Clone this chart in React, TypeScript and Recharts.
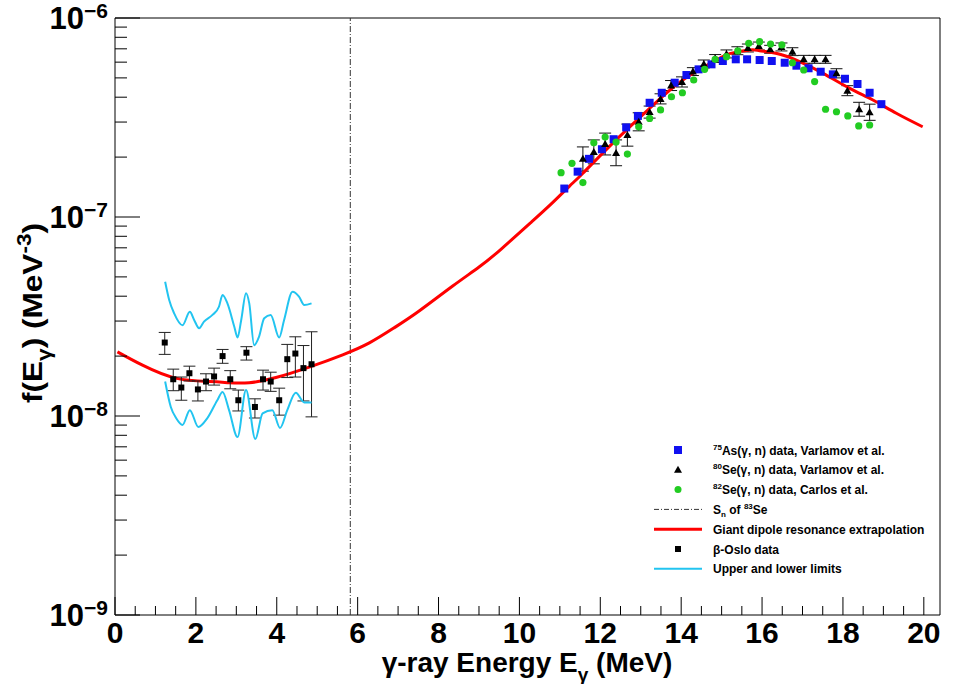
import React from 'react';
import {
  ComposedChart,
  Line,
  Scatter,
  XAxis,
  YAxis,
  ErrorBar,
  ReferenceLine,
  ReferenceArea,
  Legend,
} from 'recharts';

// 75As(g,n), Varlamov et al.
const asEnergy = [11.11, 11.44, 11.72, 12.04, 12.33, 12.64, 12.93, 13.22, 13.52, 13.84, 14.13, 14.43, 14.75, 15.03, 15.35, 15.63, 15.94, 16.24, 16.56, 16.85, 17.15, 17.45, 17.75, 18.05, 18.36, 18.66, 18.95];
const asStrength = [1.39e-7, 1.69e-7, 1.96e-7, 2.19e-7, 2.46e-7, 2.82e-7, 3.22e-7, 3.75e-7, 4.21e-7, 4.73e-7, 5.17e-7, 5.52e-7, 5.85e-7, 6.08e-7, 6.2e-7, 6.2e-7, 6.15e-7, 6.08e-7, 5.96e-7, 5.76e-7, 5.59e-7, 5.37e-7, 5.21e-7, 4.95e-7, 4.66e-7, 4.21e-7, 3.69e-7];

// 80Se(g,n), Varlamov et al.
const se80Energy = [11.57, 11.84, 12.12, 12.39, 12.67, 12.95, 13.22, 13.49, 13.75, 14.02, 14.29, 14.56, 14.84, 15.12, 15.39, 15.65, 15.92, 16.2, 16.48, 16.75, 17.03, 17.3, 17.57, 17.84, 18.11, 18.4, 18.66];
const se80Strength = [1.96e-7, 2.12e-7, 2.33e-7, 2.1e-7, 2.58e-7, 3.01e-7, 3.37e-7, 3.92e-7, 4.58e-7, 4.77e-7, 5.38e-7, 5.87e-7, 6.26e-7, 6.6e-7, 6.85e-7, 7.07e-7, 7.23e-7, 6.96e-7, 7.15e-7, 6.77e-7, 6.2e-7, 6.2e-7, 6.2e-7, 5.27e-7, 4.31e-7, 3.48e-7, 3.36e-7];
const se80Low = [1.7e-7, 1.85e-7, 2.05e-7, 1.81e-7, 2.27e-7, 2.71e-7, 3.14e-7, 3.7e-7, 4.32e-7, 4.5e-7, 5.14e-7, 5.61e-7, 5.98e-7, 6.3e-7, 6.54e-7, 6.75e-7, 6.91e-7, 6.65e-7, 6.83e-7, 6.47e-7, 5.92e-7, 5.92e-7, 5.92e-7, 5.0e-7, 4.07e-7, 3.21e-7, 3.06e-7];
const se80High = [2.25e-7, 2.44e-7, 2.64e-7, 2.44e-7, 2.93e-7, 3.34e-7, 3.61e-7, 4.16e-7, 4.85e-7, 5.06e-7, 5.63e-7, 6.15e-7, 6.55e-7, 6.91e-7, 7.17e-7, 7.4e-7, 7.57e-7, 7.29e-7, 7.49e-7, 7.09e-7, 6.49e-7, 6.49e-7, 6.49e-7, 5.56e-7, 4.57e-7, 3.77e-7, 3.69e-7];

// 82Se(g,n), Carlos et al.
const se82Energy = [11.03, 11.3, 11.57, 11.84, 12.12, 12.39, 12.67, 12.95, 13.22, 13.49, 13.76, 14.03, 14.31, 14.58, 14.84, 15.12, 15.4, 15.67, 15.94, 16.21, 16.49, 16.75, 17.03, 17.3, 17.57, 17.84, 18.12, 18.39, 18.66];
const se82Strength = [1.67e-7, 1.86e-7, 1.49e-7, 2.36e-7, 2.52e-7, 2.38e-7, 2.07e-7, 2.84e-7, 3.13e-7, 3.45e-7, 4.02e-7, 4.21e-7, 4.88e-7, 5.52e-7, 6.2e-7, 6.39e-7, 6.83e-7, 7.46e-7, 7.6e-7, 7.4e-7, 7.32e-7, 5.96e-7, 5.48e-7, 4.79e-7, 3.48e-7, 3.38e-7, 3.22e-7, 2.87e-7, 2.9e-7];

// GDR extrapolation
const gdrEnergy = [0.06, 0.68, 1.5, 2.33, 2.82, 3.32, 3.98, 4.8, 5.63, 6.29, 6.91, 7.52, 8.35, 9.01, 9.55, 10.29, 10.82, 11.24, 11.57, 12.39, 13.22, 14.04, 14.87, 15.2, 15.69, 15.94, 16.44, 16.93, 17.51, 18.17, 18.74, 19.32, 19.97];
const gdrStrength = [2.1e-8, 1.8e-8, 1.55e-8, 1.49e-8, 1.47e-8, 1.47e-8, 1.56e-8, 1.76e-8, 2.03e-8, 2.33e-8, 2.78e-8, 3.37e-8, 4.5e-8, 5.62e-8, 6.9e-8, 9.4e-8, 1.18e-7, 1.43e-7, 1.66e-7, 2.44e-7, 3.52e-7, 4.88e-7, 6.15e-7, 6.62e-7, 6.9e-7, 6.85e-7, 6.57e-7, 6.03e-7, 5.27e-7, 4.43e-7, 3.87e-7, 3.32e-7, 2.84e-7];

// beta-Oslo
const osloEnergy = [1.23, 1.44, 1.64, 1.84, 2.05, 2.25, 2.45, 2.66, 2.85, 3.05, 3.25, 3.46, 3.66, 3.85, 4.06, 4.26, 4.46, 4.66, 4.86];
const osloStrength = [2.34e-8, 1.53e-8, 1.39e-8, 1.64e-8, 1.36e-8, 1.49e-8, 1.58e-8, 2.0e-8, 1.53e-8, 1.2e-8, 2.08e-8, 1.11e-8, 1.53e-8, 1.49e-8, 1.2e-8, 1.93e-8, 2.06e-8, 1.74e-8, 1.82e-8];
const osloLow = [2.04e-8, 1.34e-8, 1.2e-8, 1.5e-8, 1.19e-8, 1.34e-8, 1.43e-8, 1.84e-8, 1.37e-8, 1.06e-8, 1.91e-8, 0.977e-8, 1.35e-8, 1.33e-8, 1.01e-8, 1.56e-8, 1.57e-8, 1.19e-8, 0.99e-8];
const osloHigh = [2.63e-8, 1.72e-8, 1.57e-8, 1.78e-8, 1.5e-8, 1.63e-8, 1.74e-8, 2.16e-8, 1.69e-8, 1.35e-8, 2.23e-8, 1.22e-8, 1.7e-8, 1.66e-8, 1.38e-8, 2.29e-8, 2.5e-8, 2.26e-8, 2.65e-8];

// upper / lower limits
const upperEnergy = [1.24, 1.34, 1.46, 1.67, 1.85, 1.96, 2.08, 2.2, 2.41, 2.57, 2.66, 2.78, 2.95, 3.03, 3.12, 3.24, 3.32, 3.44, 3.56, 3.69, 3.85, 4.06, 4.18, 4.39, 4.55, 4.68, 4.86];
const upperStrength = [4.73e-8, 3.83e-8, 3.29e-8, 2.86e-8, 3.34e-8, 3.03e-8, 2.76e-8, 2.98e-8, 3.22e-8, 3.54e-8, 4.06e-8, 3.68e-8, 2.81e-8, 2.48e-8, 3.03e-8, 4.14e-8, 3.68e-8, 2.27e-8, 2.5e-8, 3.1e-8, 3.22e-8, 2.48e-8, 3.03e-8, 4.21e-8, 3.98e-8, 3.61e-8, 3.68e-8];
const lowerEnergy = [1.24, 1.38, 1.51, 1.67, 1.85, 2.06, 2.28, 2.53, 2.66, 2.82, 3.03, 3.24, 3.47, 3.65, 3.89, 4.08, 4.26, 4.47, 4.68, 4.86];
const lowerStrength = [1.49e-8, 1.11e-8, 9.77e-9, 9.02e-9, 1.07e-8, 8.81e-9, 9.73e-9, 1.2e-8, 1.32e-8, 1.07e-8, 7.84e-9, 1.35e-8, 7.66e-9, 1.03e-8, 1.07e-8, 8.71e-9, 1.07e-8, 1.31e-8, 1.17e-8, 1.17e-8];

const snEnergy = 5.818;

const xMajorTicks = [0, 2, 4, 6, 8, 10, 12, 14, 16, 18, 20];
const xMinorTicks = [0.5, 1, 1.5, 2.5, 3, 3.5, 4.5, 5, 5.5, 6.5, 7, 7.5, 8.5, 9, 9.5, 10.5, 11, 11.5, 12.5, 13, 13.5, 14.5, 15, 15.5, 16.5, 17, 17.5, 18.5, 19, 19.5];
const yDecades = [1e-9, 1e-8, 1e-7, 1e-6];
const yMinorMantissas = [2, 3, 4, 5, 6, 7, 8, 9];

const FONT = '"Liberation Sans", Arial, Helvetica, sans-serif';

const pts = (xs: number[], ys: number[]) => xs.map((x, i) => ({ x, y: ys[i] }));
const ptsErr = (xs: number[], ys: number[], lo: number[], hi: number[]) =>
  xs.map((x, i) => ({ x, y: ys[i], err: [ys[i] - lo[i], hi[i] - ys[i]] }));

const asData = pts(asEnergy, asStrength);
const se80Data = ptsErr(se80Energy, se80Strength, se80Low, se80High);
const se82Data = pts(se82Energy, se82Strength);
const gdrData = pts(gdrEnergy, gdrStrength);
const osloData = ptsErr(osloEnergy, osloStrength, osloLow, osloHigh);
const upperData = pts(upperEnergy, upperStrength);
const lowerData = pts(lowerEnergy, lowerStrength);

const xTicks = [...xMajorTicks, ...xMinorTicks].sort((a, b) => a - b);
const yTicks = [
  ...yDecades,
  ...yDecades.slice(0, 3).flatMap((d) => yMinorMantissas.map((m) => m * d)),
].sort((a, b) => a - b);

const BLUE = '#1010f0';
const GREEN = '#22cc22';
const CYAN = '#22c4f0';
const RED = '#ff0000';

function XTick(props: any) {
  const { x, y, payload } = props;
  const major = xMajorTicks.includes(payload.value);
  return (
    <g>
      <line x1={x} x2={x} y1={y} y2={y - (major ? 18 : 9)} stroke="#000" strokeWidth={1} />
      {major && (
        <text x={x} y={y + 28} textAnchor="middle" fontSize={30} fontWeight="bold" fontFamily={FONT} fill="#000">
          {payload.value}
        </text>
      )}
    </g>
  );
}

function YTick(props: any) {
  const { x, y, payload } = props;
  const v = payload.value;
  const exp = Math.round(Math.log10(v));
  const major = Math.abs(v / Math.pow(10, exp) - 1) < 1e-6;
  return (
    <g>
      <line x1={x} x2={x + (major ? 25 : 12)} y1={y} y2={y} stroke="#000" strokeWidth={1} />
      {major && (
        <text x={x - 7} y={y + 11} textAnchor="end" fontSize={31} fontWeight="bold" fontFamily={FONT} fill="#000">
          10
          <tspan dy={-11} fontSize={21}>
            {'\u2212' + String(-exp)}
          </tspan>
        </text>
      )}
    </g>
  );
}

function XTitle() {
  return (
    <text x={527} y={672} textAnchor="middle" fontSize={28} fontWeight="bold" fontFamily={FONT} fill="#000">
      γ-ray Energy E
      <tspan dy={9} fontSize={19}>γ</tspan>
      <tspan dy={-9}> (MeV)</tspan>
    </text>
  );
}

function YTitle() {
  // squeezed to the length of the original title so it sits between the 1e-7 and 1e-8 labels
  return (
    <text
      x={-313}
      y={42}
      transform="rotate(-90)"
      textAnchor="middle"
      fontSize={28}
      fontWeight="bold"
      fontFamily={FONT}
      fill="#000"
      textLength={180}
      lengthAdjust="spacingAndGlyphs"
    >
      f(E
      <tspan dy={9} fontSize={20}>γ</tspan>
      <tspan dy={-9}>) (MeV</tspan>
      <tspan dy={-11} fontSize={20}>-3</tspan>
      <tspan dy={11}>)</tspan>
    </text>
  );
}

function LegendBox() {
  const rows = [
    { kind: 'square', color: BLUE, size: 8, pre: '75', text: 'As(γ, n) data, Varlamov et al.' },
    { kind: 'triangle', color: '#000', size: 7, pre: '80', text: 'Se(γ, n) data, Varlamov et al.' },
    { kind: 'circle', color: GREEN, size: 7, pre: '82', text: 'Se(γ, n) data, Carlos et al.' },
    { kind: 'dashdot', color: '#333', text: 'Sn' },
    { kind: 'line', color: RED, width: 3, text: 'Giant dipole resonance extrapolation' },
    { kind: 'square', color: '#000', size: 6, text: 'β-Oslo data' },
    { kind: 'line', color: CYAN, width: 2, text: 'Upper and lower limits' },
  ];
  const fs = 12;
  return (
    <svg width={300} height={150} style={{ display: 'block' }}>
      {rows.map((r: any, i) => {
        const cy = 10 + i * 19.8;
        let marker: React.ReactNode = null;
        if (r.kind === 'square') {
          marker = <rect x={38 - r.size / 2} y={cy - r.size / 2} width={r.size} height={r.size} fill={r.color} />;
        } else if (r.kind === 'triangle') {
          marker = <polygon points={`${38 - 4},${cy + 3} ${38 + 4},${cy + 3} ${38},${cy - 4}`} fill={r.color} />;
        } else if (r.kind === 'circle') {
          marker = <circle cx={38} cy={cy} r={r.size / 2} fill={r.color} />;
        } else if (r.kind === 'dashdot') {
          marker = <line x1={14} x2={62} y1={cy} y2={cy} stroke={r.color} strokeWidth={1} strokeDasharray="5 2 1 2" />;
        } else {
          marker = <line x1={14} x2={62} y1={cy} y2={cy} stroke={r.color} strokeWidth={r.width} />;
        }
        let label: React.ReactNode;
        if (r.kind === 'dashdot') {
          label = (
            <text x={73} y={cy + 4.5} fontSize={fs} fontWeight="bold" fontFamily={FONT} fill="#000">
              S<tspan dy={3} fontSize={8}>n</tspan>
              <tspan dy={-3}> of </tspan>
              <tspan dy={-5} fontSize={8}>83</tspan>
              <tspan dy={5}>Se</tspan>
            </text>
          );
        } else if (r.pre) {
          label = (
            <text x={73} y={cy + 4.5} fontSize={fs} fontWeight="bold" fontFamily={FONT} fill="#000">
              <tspan dy={-5} fontSize={8}>{r.pre}</tspan>
              <tspan dy={5}>{r.text}</tspan>
            </text>
          );
        } else {
          label = (
            <text x={73} y={cy + 4.5} fontSize={fs} fontWeight="bold" fontFamily={FONT} fill="#000">
              {r.text}
            </text>
          );
        }
        return (
          <g key={i}>
            {marker}
            {label}
          </g>
        );
      })}
    </svg>
  );
}

const squareShape = (size: number, color: string) => (p: any) =>
  <rect x={p.cx - size / 2} y={p.cy - size / 2} width={size} height={size} fill={color} />;
const circleShape = (r: number, color: string) => (p: any) => <circle cx={p.cx} cy={p.cy} r={r} fill={color} />;
const triangleShape = (p: any) => (
  <polygon points={`${p.cx - 4},${p.cy + 3} ${p.cx + 4},${p.cy + 3} ${p.cx},${p.cy - 4}`} fill="#000" />
);

export default function App() {
  return (
    <div style={{ position: 'absolute', left: 0, top: 0, width: 955, height: 684, background: '#fff' }}>
      <ComposedChart width={955} height={684} margin={{ top: 18, right: 15, bottom: 0, left: 0 }}>
        <XAxis
          type="number"
          dataKey="x"
          domain={[0, 20.4]}
          allowDataOverflow
          ticks={xTicks}
          interval={0}
          height={69}
          tickSize={0}
          tickMargin={0}
          tickLine={false}
          axisLine={false}
          tick={<XTick />}
          label={{ content: () => <XTitle /> }}
        />
        <YAxis
          type="number"
          dataKey="y"
          scale="log"
          domain={[1e-9, 1e-6]}
          allowDataOverflow
          ticks={yTicks}
          interval={0}
          width={115}
          tickSize={0}
          tickMargin={0}
          tickLine={false}
          axisLine={false}
          tick={<YTick />}
          label={{ content: () => <YTitle /> }}
        />
        <ReferenceArea x1={0} x2={20.4} y1={1e-9} y2={1e-6} fill="none" stroke="#000" strokeWidth={1} />
        <ReferenceLine x={snEnergy} stroke="#333" strokeWidth={1} strokeDasharray="6 2 1 2" />

        <Scatter data={asData} dataKey="y" shape={squareShape(8, BLUE)} isAnimationActive={false} />
        <Scatter data={se80Data} dataKey="y" shape={triangleShape} isAnimationActive={false}>
          <ErrorBar dataKey="err" direction="y" width={6} stroke="#111" strokeWidth={1} />
        </Scatter>
        <Scatter data={se82Data} dataKey="y" shape={circleShape(3.6, GREEN)} isAnimationActive={false} />
        <Line data={gdrData} dataKey="y" type="natural" stroke={RED} strokeWidth={3} dot={false} isAnimationActive={false} />
        <Scatter data={osloData} dataKey="y" shape={squareShape(6, '#000')} isAnimationActive={false}>
          <ErrorBar dataKey="err" direction="y" width={6} stroke="#222" strokeWidth={1} />
        </Scatter>
        <Line data={upperData} dataKey="y" type="monotone" stroke={CYAN} strokeWidth={2} dot={false} isAnimationActive={false} />
        <Line data={lowerData} dataKey="y" type="monotone" stroke={CYAN} strokeWidth={2} dot={false} isAnimationActive={false} />

        <Legend
          layout="horizontal"
          verticalAlign="middle"
          align="center"
          wrapperStyle={{ left: 640, top: 440, width: 300, height: 150 }}
          content={() => <LegendBox />}
        />
      </ComposedChart>
    </div>
  );
}
